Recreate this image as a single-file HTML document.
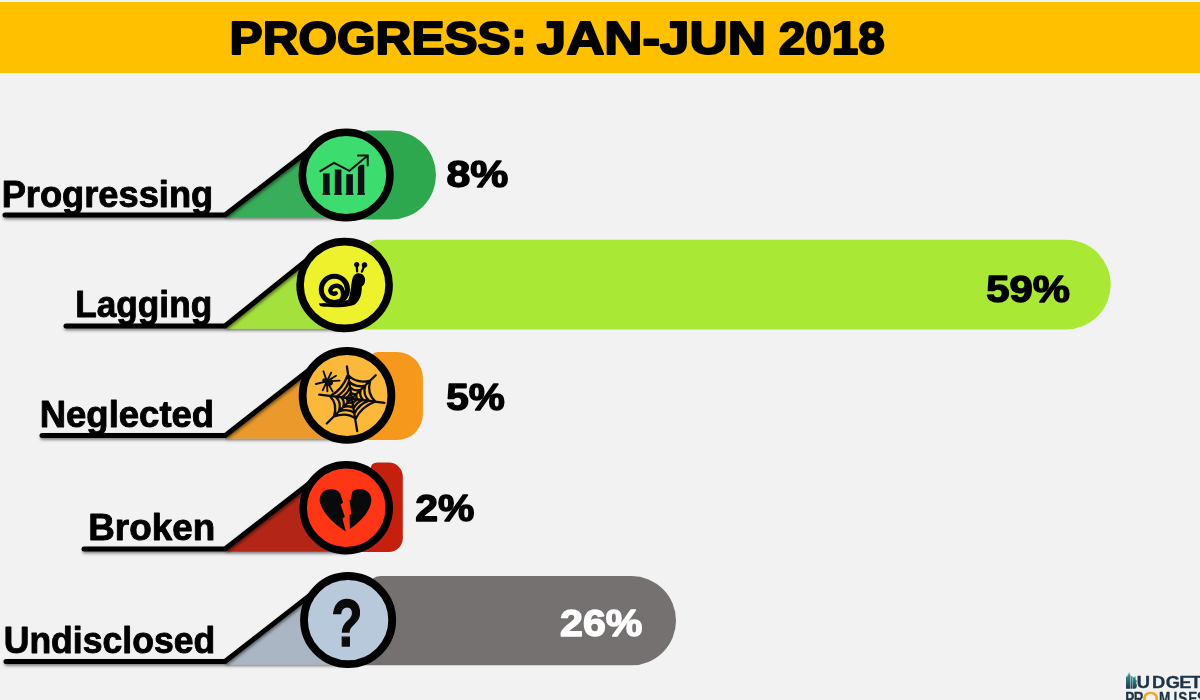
<!DOCTYPE html>
<html lang="en"><head><meta charset="utf-8"><title>Progress: Jan-Jun 2018</title>
<style>
html,body{margin:0;padding:0;background:#f2f2f2;}
body{width:1200px;height:700px;overflow:hidden;font-family:"Liberation Sans",sans-serif;}
svg{display:block}
.lab{font-family:"Liberation Sans",sans-serif;font-weight:700;font-size:37.6px;fill:#000;stroke:#000;stroke-width:0.9px;stroke-linejoin:round}
.pct{font-family:"Liberation Sans",sans-serif;font-weight:700;font-size:37.5px;stroke-width:1.4px;stroke-linejoin:round}
.ttl{font-family:"Liberation Sans",sans-serif;font-weight:700;font-size:46.4px;fill:#000;stroke:#000;stroke-width:2px;stroke-linejoin:round}
.logo{font-family:"Liberation Sans",sans-serif;font-weight:700;font-size:17px;fill:#1d3446;stroke:#1d3446;stroke-width:0.35px}
</style></head><body>
<svg width="1200" height="700" viewBox="0 0 1200 700">
<defs><filter id="sh" x="-5%" y="-10%" width="110%" height="130%"><feDropShadow dx="0.8" dy="1.8" stdDeviation="1.6" flood-color="#000" flood-opacity="0.5"/></filter></defs>
<rect x="0" y="0" width="1200" height="700" fill="#f2f2f2"/>
<rect x="0" y="2" width="1200" height="71" fill="#ffc000"/>
<text class="ttl" x="229.6" y="54" textLength="281" lengthAdjust="spacingAndGlyphs">PROGRESS</text>
<text class="ttl" x="511.3" y="54" stroke-width="3">:</text>
<text class="ttl" x="536.8" y="54" textLength="229" lengthAdjust="spacingAndGlyphs">JAN-JUN</text>
<text class="ttl" x="778.8" y="54" textLength="106" lengthAdjust="spacingAndGlyphs">2018</text>
<g>
<path d="M368 130.5H391.5A44.5 44.5 0 0 1 436 175.0V175.0A44.5 44.5 0 0 1 391.5 219.5H346.15V175.0H362V136.5Q362 130.5 368 130.5Z" fill="#2da84f"/>
<path d="M224 215L320.3 141.5L346.15 175.0L346.15 217.8L227.5 217.8Z" fill="#38ad5a" filter="url(#sh)"/>
<path d="M5 215H225L320.3 141.5" fill="none" stroke="#000" stroke-width="5" stroke-linecap="round" stroke-linejoin="round" filter="url(#sh)"/>
<ellipse cx="346.15" cy="175.0" rx="43.8" ry="42.699999999999996" fill="#3cdd6e" stroke="#000" stroke-width="7.5"/>
<rect x="323.0" y="173.4" width="6.6" height="21.2" fill="#0d0f14"/>
<rect x="322.3" y="193.4" width="8.0" height="1.3" fill="#0d0f14"/>
<rect x="334.8" y="169.5" width="6.6" height="25.1" fill="#0d0f14"/>
<rect x="334.1" y="193.4" width="8.0" height="1.3" fill="#0d0f14"/>
<rect x="346.3" y="174.2" width="6.6" height="20.4" fill="#0d0f14"/>
<rect x="345.6" y="193.4" width="8.0" height="1.3" fill="#0d0f14"/>
<rect x="357.9" y="164.8" width="6.4" height="29.8" fill="#0d0f14"/>
<rect x="357.2" y="193.4" width="7.8" height="1.3" fill="#0d0f14"/>
<path d="M320.4 171.2L334 162.8L349.4 170.8L366.6 156.6" fill="none" stroke="#3cdd6e" stroke-width="5" stroke-linejoin="miter"/>
<path d="M320.4 171.2L334 162.8L349.4 170.8L366.6 156.6" fill="none" stroke="#0d0f14" stroke-width="2" stroke-linejoin="miter" stroke-linecap="round"/>
<path d="M358 155.6H367.7V165.4" fill="none" stroke="#0d0f14" stroke-width="2" stroke-linejoin="miter" stroke-linecap="round"/>
<text class="lab" x="1.7" y="206.6" textLength="211.5" lengthAdjust="spacingAndGlyphs">Progressing</text>
<text class="pct" x="446.6" y="187" textLength="61.799999999999955" lengthAdjust="spacingAndGlyphs" fill="#000" stroke="#000">8%</text>
</g>
<g>
<path d="M377.5 239.7H1065.8A44.9 44.9 0 0 1 1110.7 284.59999999999997V284.6A44.9 44.9 0 0 1 1065.8 329.5H344.6V285.0H367.5V249.7Q367.5 239.7 377.5 239.7Z" fill="#a9e935"/>
<path d="M224 326L317.7 251.5L344.6 285.0L344.6 328.8L227.5 328.8Z" fill="#a4e13d" filter="url(#sh)"/>
<path d="M66 326H225L317.7 251.5" fill="none" stroke="#000" stroke-width="5" stroke-linecap="round" stroke-linejoin="round" filter="url(#sh)"/>
<ellipse cx="344.6" cy="285.0" rx="44.5" ry="43.4" fill="#eef22c" stroke="#000" stroke-width="7.6"/>
<path d="M318.8 303.4Q324 302.6 330 303.4L348 300C350.6 296 350.6 286 352.6 278C354 272.6 360.4 272 363.6 275.4C366.4 279 365.2 284.6 361.8 286.6C362 292.6 360.6 300.4 354.8 304.4C348 307.8 330 307.6 322 306.6Q319.4 306 318.8 303.4Z" fill="#000"/>
<circle cx="334.4" cy="289.4" r="13.1" fill="#eef22c" stroke="#000" stroke-width="5"/>
<path d="M340.4 301.8Q345.2 295 341.6 288.4A6.4 6.4 0 0 0 330.2 290.6A3.7 3.7 0 0 0 335.8 293.2" fill="none" stroke="#000" stroke-width="4.3" stroke-linecap="round"/>
<path d="M357.1 271.4L356.8 266M361.9 271.6L364 266.4" stroke="#000" stroke-width="2.3" stroke-linecap="round" fill="none"/>
<circle cx="356.7" cy="264.5" r="2.6" fill="#000"/><circle cx="364.5" cy="264.9" r="2.7" fill="#000"/>
<text class="lab" x="75.2" y="317.2" textLength="137.0" lengthAdjust="spacingAndGlyphs">Lagging</text>
<text class="pct" x="986.3" y="301.7" textLength="83.70000000000005" lengthAdjust="spacingAndGlyphs" fill="#000" stroke="#000">59%</text>
</g>
<g>
<path d="M378 352H396.9A26 26 0 0 1 422.9 378V414A26 26 0 0 1 396.9 440H347.0V395.4H371V359Q371 352 378 352Z" fill="#f6981b"/>
<path d="M224 435.6L320.3 361.2L347.0 395.4L347.0 438.40000000000003L227.5 438.40000000000003Z" fill="#ea992c" filter="url(#sh)"/>
<path d="M42 435.6H225L320.3 361.2" fill="none" stroke="#000" stroke-width="5" stroke-linecap="round" stroke-linejoin="round" filter="url(#sh)"/>
<ellipse cx="347.0" cy="395.4" rx="44.4" ry="44.4" fill="#fbb83b" stroke="#000" stroke-width="7.8"/>
<path d="M351.8 398.5L346.9 366.5M351.8 398.5L375.7 375.2M351.8 398.5L384.4 402.9M351.8 398.5L357.2 431.1M351.8 398.5L326.8 423.5M351.8 398.5L319.2 394.7M347.8 375.0Q356.8 384.0 370.2 380.7M370.2 380.7Q366.5 393.3 375.4 401.5M375.4 401.5Q361.5 406.6 355.8 418.6M355.8 418.6Q347.0 411.8 334.0 416.4M334.0 416.4Q337.9 404.0 330.0 396.3M330.0 396.3Q342.7 389.5 347.8 375.0M348.9 381.4Q355.5 388.0 365.2 385.6M365.2 385.6Q362.5 394.7 369.0 400.7M369.0 400.7Q358.8 404.4 354.7 413.1M354.7 413.1Q348.3 408.2 338.9 411.5M338.9 411.5Q341.7 402.5 335.9 396.9M335.9 396.9Q345.2 392.0 348.9 381.4M349.9 387.2Q354.2 391.5 360.7 389.9M360.7 389.9Q358.9 396.0 363.2 399.9M363.2 399.9Q356.5 402.4 353.7 408.2M353.7 408.2Q349.5 404.9 343.2 407.1M343.2 407.1Q345.1 401.1 341.3 397.4M341.3 397.4Q347.4 394.2 349.9 387.2M350.8 392.5Q353.1 394.8 356.5 394.0M356.5 394.0Q355.6 397.2 357.8 399.3M357.8 399.3Q354.3 400.6 352.8 403.6M352.8 403.6Q350.6 401.9 347.3 403.1M347.3 403.1Q348.3 399.9 346.2 397.9M346.2 397.9Q349.5 396.2 350.8 392.5" fill="none" stroke="#0d0d0d" stroke-width="2.3" stroke-linecap="round"/>
<ellipse cx="329.3" cy="382.4" rx="3.7" ry="3.3" fill="#0d0d0d"/><circle cx="324.4" cy="380.3" r="2.1" fill="#0d0d0d"/>
<path d="M326.9 381.4L323.4 371.3M326.9 381.4L331.2 372.6M326.9 381.4L336 375.8M326.9 381.4L339.6 380.6M326.9 381.4L315.8 384.0M326.9 381.4L322.8 390.2M326.9 381.4L327.4 391.4M326.9 381.4L332.6 391.4" fill="none" stroke="#0d0d0d" stroke-width="1.9" stroke-linecap="round"/>
<text class="lab" x="39.7" y="427" textLength="174.5" lengthAdjust="spacingAndGlyphs">Neglected</text>
<text class="pct" x="446.3" y="410.2" textLength="58.599999999999966" lengthAdjust="spacingAndGlyphs" fill="#000" stroke="#000">5%</text>
</g>
<g>
<path d="M377.5 462.6H388.8A14 14 0 0 1 402.8 476.6V538A14 14 0 0 1 388.8 552H346.2V507.8H370.5V469.6Q370.5 462.6 377.5 462.6Z" fill="#c5200e"/>
<path d="M224 549L320.4 474.7L346.2 507.8L346.2 551.8L227.5 551.8Z" fill="#b32818" filter="url(#sh)"/>
<path d="M84 549H225L320.4 474.7" fill="none" stroke="#000" stroke-width="5" stroke-linecap="round" stroke-linejoin="round" filter="url(#sh)"/>
<ellipse cx="346.2" cy="507.8" rx="43.0" ry="43.0" fill="#ff3615" stroke="#000" stroke-width="7.5"/>
<path d="M319.7 501C319.4 494 324 489.2 330.4 489.2C335.5 489.2 338.6 490.6 340.3 493.8L343.1 502.4L340.6 504.6L344.9 516.8L342.5 518.6L345.8 531.4C337 526 322 514 319.7 501Z" fill="#0a0a0a"/>
<path d="M352.3 491.6C354 489.8 357 489.2 360.2 489.2C367 489.2 371.6 494 371.3 500.4C370.6 512 358 523.6 349.9 529L349.5 515.1L351.3 514L349.5 500.1L350.9 499.6Z" fill="#0a0a0a"/>
<text class="lab" x="88.2" y="540.4" textLength="126.99999999999999" lengthAdjust="spacingAndGlyphs">Broken</text>
<text class="pct" x="415.3" y="521.3" textLength="59.099999999999966" lengthAdjust="spacingAndGlyphs" fill="#000" stroke="#000">2%</text>
</g>
<g>
<path d="M380.5 576H631.4A44.6 44.6 0 0 1 676 620.6V620.6999999999999A44.6 44.6 0 0 1 631.4 665.3H348.1V620.1H370.5V586Q370.5 576 380.5 576Z" fill="#767171"/>
<path d="M224 661.5L321.6 586.1L348.1 620.1L348.1 664.3L227.5 664.3Z" fill="#abb6c5" filter="url(#sh)"/>
<path d="M6 661.5H225L321.6 586.1" fill="none" stroke="#000" stroke-width="5" stroke-linecap="round" stroke-linejoin="round" filter="url(#sh)"/>
<ellipse cx="348.1" cy="620.1" rx="44.1" ry="44.1" fill="#b9c9dc" stroke="#000" stroke-width="7.8"/>
<text x="347" y="645.6" text-anchor="middle" font-family="Liberation Sans, sans-serif" font-weight="700" font-size="66.4" fill="#0a0a0a" stroke="#0a0a0a" stroke-width="1.4" transform="translate(347 0) scale(0.77 1) translate(-347 0)">?</text>
<text class="lab" x="3.7" y="653.4" textLength="211.5" lengthAdjust="spacingAndGlyphs">Undisclosed</text>
<text class="pct" x="560" y="636.1" textLength="82.39999999999998" lengthAdjust="spacingAndGlyphs" fill="#fff" stroke="#fff">26%</text>
</g>
<g>
<defs><linearGradient id="lg" x1="0" y1="0" x2="0" y2="1"><stop offset="0" stop-color="#3a9aa0"/><stop offset="1" stop-color="#1c3a46"/></linearGradient></defs>
<path d="M1126 688.7V676.4H1127.6V674.6H1128.6V672.8H1129.6V674.6H1130.4V688.7Z" fill="url(#lg)"/>
<path d="M1130.8 688.7V676.2H1132.6V688.7Z" fill="url(#lg)"/>
<path d="M1133 688.7V677.2H1134.6V676.2H1135.6V679.4C1137.2 680 1137.2 682.4 1135.8 683C1137.6 683.8 1137.4 688.7 1134.4 688.7Z" fill="url(#lg)"/>
<text class="logo" y="688.2" transform="scale(1.08 1)"><tspan x="1052.5" y="688.2">U</tspan><tspan x="1066.6" y="688.2">D</tspan><tspan x="1079.5" y="688.2">G</tspan><tspan x="1092.0" y="688.2">E</tspan><tspan x="1102.1" y="688.2">T</tspan></text>
<text class="logo" y="704.4" transform="scale(0.8 1)"><tspan x="1406.7">P</tspan><tspan x="1417.2">R</tspan></text><text x="1142.3" y="706.9" font-family="Liberation Sans, sans-serif" font-size="21.5" fill="#f6a21d" stroke="#f6a21d" stroke-width="0.5">O</text><text class="logo" y="704.4" transform="scale(0.8 1)"><tspan x="1448.8">M</tspan><tspan x="1466.8">I</tspan><tspan x="1472.7">S</tspan><tspan x="1485.4">E</tspan><tspan x="1496.4">S</tspan></text>
</g>
</svg>
</body></html>
